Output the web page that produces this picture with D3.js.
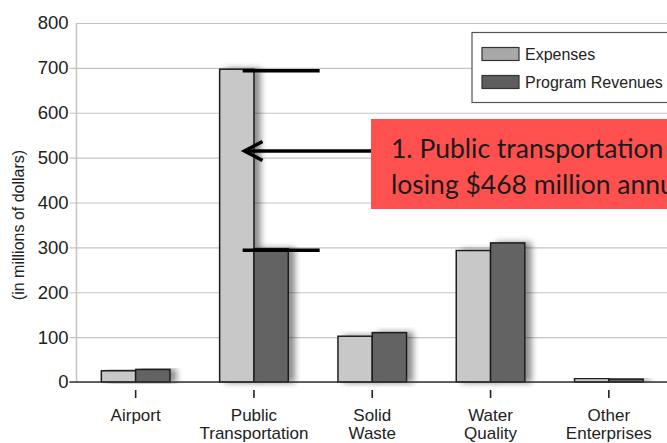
<!DOCTYPE html>
<html><head><meta charset="utf-8">
<script src="https://cdn.jsdelivr.net/npm/d3@7"></script>
<style>
html,body{margin:0;padding:0;background:#fff;overflow:hidden;}
svg{display:block;}
</style></head>
<body>
<svg id="chart" width="667" height="443"></svg>
<script>
// ---- data ----
const categories = ["Airport", "Public Transportation", "Solid Waste", "Water Quality", "Other Enterprises"];
const categoryLines = [["Airport"], ["Public", "Transportation"], ["Solid", "Waste"], ["Water", "Quality"], ["Other", "Enterprises"]];
const seriesNames = ["Expenses", "Program Revenues"];
const expenses = [25, 697, 102, 293, 8];
const revenues = [28, 297, 110, 310, 6.5];
const yTicks = [0, 100, 200, 300, 400, 500, 600, 700, 800];
const yAxisTitle = "(in millions of dollars)";
const calloutLines = ["1. Public transportation is", "losing $468 million annually"];

// ---- layout ----
const W = 667, H = 443;
const plotLeft = 76.5, plotRight = 668, plotTop = 23, plotBottom = 382;
const svg = d3.select("#chart");
const colors = {Expenses: "#c8c8c8", "Program Revenues": "#636363"};
const legendColors = {Expenses: "#a8a8a8", "Program Revenues": "#5e5e5e"};

const defs = svg.append("defs");
const f = defs.append("filter").attr("id", "shadow").attr("x", "-20%").attr("y", "-10%").attr("width", "160%").attr("height", "120%");
f.append("feGaussianBlur").attr("in", "SourceAlpha").attr("stdDeviation", 3).attr("result", "b");
f.append("feOffset").attr("in", "b").attr("dx", 6).attr("dy", 0).attr("result", "o");
f.append("feComponentTransfer").attr("in", "o").attr("result", "oa")
  .append("feFuncA").attr("type", "linear").attr("slope", 0.45);
const fm = f.append("feMerge");
fm.append("feMergeNode").attr("in", "oa");
fm.append("feMergeNode").attr("in", "SourceGraphic");

const x0 = d3.scaleBand().domain(categories).range([plotLeft, plotRight]).paddingInner(0).paddingOuter(0);
const bw = x0.bandwidth();
const x1 = d3.scaleBand().domain(seriesNames).range([bw / 2 - 34.3, bw / 2 + 34.3]).padding(0);
const y = d3.scaleLinear().domain([0, 800]).range([plotBottom, plotTop]);

const font = "'Liberation Sans', Arial, sans-serif";

// gridlines + y axis ticks
const yAxis = d3.axisLeft(y).tickValues(yTicks).tickSize(-(W - plotLeft)).tickPadding(3).tickFormat(d3.format("d"));
const gy = svg.append("g").attr("transform", `translate(${plotLeft},0)`).call(yAxis);
gy.select(".domain").remove();
gy.selectAll(".tick line").attr("stroke", "#c4c4c4").attr("stroke-width", 1.2).attr("x1", d => d === 800 ? 0 : -7);
gy.selectAll(".tick text").attr("font-family", font).attr("font-size", 18.5).attr("fill", "#222").attr("x", -8);
// left vertical axis
svg.append("line").attr("x1", plotLeft).attr("x2", plotLeft).attr("y1", plotTop).attr("y2", plotBottom)
  .attr("stroke", "#c4c4c4").attr("stroke-width", 1.5);

// y axis title
svg.append("text").attr("transform", `translate(24,225) rotate(-90)`)
  .attr("text-anchor", "middle").attr("font-family", font).attr("font-size", 16).attr("fill", "#222")
  .text(yAxisTitle);

// bars
const data = categories.map((c, i) => ({cat: c, vals: [{s: "Expenses", v: expenses[i]}, {s: "Program Revenues", v: revenues[i]}]}));
const groups = svg.append("g").selectAll("g").data(data).join("g")
  .attr("transform", d => `translate(${x0(d.cat)},0)`);
groups.selectAll("rect").data(d => d.vals).join("rect")
  .attr("x", d => x1(d.s)).attr("width", x1.bandwidth())
  .attr("y", d => y(d.v)).attr("height", d => y(0) - y(d.v))
  .attr("fill", d => colors[d.s]).attr("stroke", "#1e1e1e").attr("stroke-width", 1.5)
  .attr("filter", "url(#shadow)");

// x axis baseline
svg.append("line").attr("x1", plotLeft - 7).attr("x2", W).attr("y1", plotBottom).attr("y2", plotBottom)
  .attr("stroke", "#333").attr("stroke-width", 1.6);

// x axis ticks and labels
const xAxis = d3.axisBottom(x0).tickSize(0).tickFormat("");
const gx = svg.append("g").attr("transform", `translate(0,${plotBottom})`).call(xAxis);
gx.select(".domain").remove();
gx.selectAll(".tick").append("line").attr("y1", 8).attr("y2", 16).attr("stroke", "#222").attr("stroke-width", 1.6);
gx.selectAll(".tick").each(function (d, i) {
  const t = d3.select(this).append("text").attr("text-anchor", "middle").attr("font-family", font)
    .attr("font-size", 17).attr("fill", "#222");
  categoryLines[i].forEach((ln, j) => t.append("tspan").attr("x", 0).attr("y", 38.5 + j * 18.5).text(ln));
});

// legend
const lg = svg.append("g");
lg.append("rect").attr("x", 472).attr("y", 32.5).attr("width", 210).attr("height", 70)
  .attr("fill", "#fff").attr("stroke", "#555").attr("stroke-width", 1.2);
seriesNames.forEach((s, i) => {
  lg.append("rect").attr("x", 482).attr("y", 47.5 + i * 28).attr("width", 37).attr("height", 13)
    .attr("fill", legendColors[s]).attr("stroke", "#333").attr("stroke-width", 1.2);
  lg.append("text").attr("x", 525).attr("y", 60 + i * 28).attr("font-family", font).attr("font-size", 16)
    .attr("fill", "#222").text(s);
});

// annotation marks
const pt = categories[1];
const markX1 = x0(pt) + x1("Expenses") + 23, markX2 = markX1 + 77;
[expenses[1], revenues[1]].forEach(v => {
  svg.append("line").attr("x1", markX1).attr("x2", markX2).attr("y1", y(v) + 1.5).attr("y2", y(v) + 1.5)
    .attr("stroke", "#000").attr("stroke-width", 3.5);
});
// arrow
const arrowY = 151, tipX = 244.5;
svg.append("line").attr("x1", tipX + 1).attr("x2", 372).attr("y1", arrowY).attr("y2", arrowY)
  .attr("stroke", "#000").attr("stroke-width", 3.5);
svg.append("path").attr("d", `M${tipX + 18},${arrowY - 9.5} L${tipX},${arrowY} L${tipX + 18},${arrowY + 9.5}`)
  .attr("fill", "none").attr("stroke", "#000").attr("stroke-width", 3.5);

// callout box
svg.append("rect").attr("x", 371).attr("y", 119).attr("width", 310).attr("height", 90).attr("fill", "#ff5050");
const ct = svg.append("text").attr("font-family", "Lato, 'Open Sans', sans-serif").attr("font-size", 26.5).attr("fill", "#1a1a1a");
calloutLines.forEach((ln, j) => ct.append("tspan").attr("x", 391).attr("y", 158 + j * 36).text(ln));
</script>
</body></html>
